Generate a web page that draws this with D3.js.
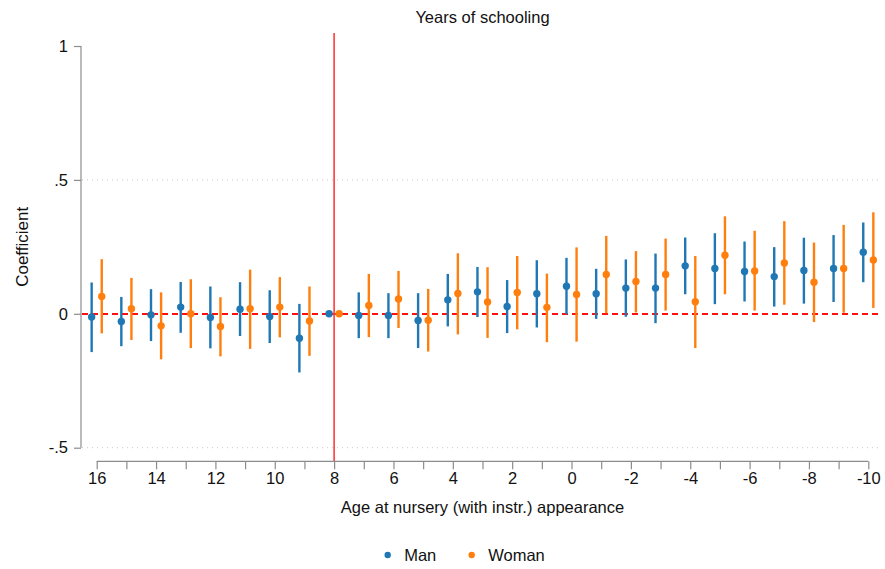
<!DOCTYPE html>
<html>
<head>
<meta charset="utf-8">
<script src="https://cdn.jsdelivr.net/npm/d3@7"></script>
<style>
  body { margin: 0; background: #fff; }
  svg { font-family: "Liberation Sans", Arial, sans-serif; }
</style>
</head>
<body>
<svg id="chart" width="885" height="569"></svg>
<script>
// ages on the x axis (reversed, 16 down to -10)
const ages = [16, 15, 14, 13, 12, 11, 10, 9, 8, 7, 6, 5, 4, 3, 2, 1, 0, -1, -2, -3, -4, -5, -6, -7, -8, -9, -10];

const manCoef = [-0.012, -0.029, -0.004, 0.025, -0.014, 0.017, -0.010, -0.091, 0, -0.006, -0.006, -0.025, 0.052, 0.082, 0.027, 0.075, 0.103, 0.075, 0.096, 0.096, 0.179, 0.169, 0.158, 0.139, 0.162, 0.169, 0.230];
const manLo = [-0.143, -0.121, -0.102, -0.071, -0.129, -0.083, -0.109, -0.219, 0, -0.091, -0.091, -0.128, -0.047, -0.012, -0.072, -0.051, -0.002, -0.019, -0.011, -0.035, 0.073, 0.036, 0.046, 0.027, 0.038, 0.044, 0.118];
const manHi = [0.117, 0.063, 0.092, 0.119, 0.102, 0.118, 0.088, 0.037, 0, 0.080, 0.077, 0.077, 0.149, 0.175, 0.126, 0.200, 0.209, 0.168, 0.203, 0.225, 0.285, 0.301, 0.270, 0.249, 0.284, 0.294, 0.341];

const womanCoef = [0.065, 0.019, -0.045, 0.000, -0.047, 0.019, 0.025, -0.027, 0, 0.031, 0.055, -0.024, 0.076, 0.044, 0.080, 0.024, 0.072, 0.147, 0.121, 0.147, 0.045, 0.219, 0.160, 0.190, 0.118, 0.169, 0.201];
const womanLo = [-0.073, -0.098, -0.170, -0.128, -0.159, -0.131, -0.088, -0.157, 0, -0.087, -0.053, -0.141, -0.077, -0.090, -0.058, -0.106, -0.104, 0.002, 0.005, 0.012, -0.128, 0.073, 0.012, 0.034, -0.031, 0.004, 0.022];
const womanHi = [0.204, 0.134, 0.080, 0.129, 0.062, 0.165, 0.137, 0.102, 0, 0.149, 0.160, 0.093, 0.226, 0.174, 0.216, 0.150, 0.248, 0.291, 0.234, 0.281, 0.216, 0.364, 0.310, 0.346, 0.266, 0.332, 0.379];

const yTicks = [-0.5, 0, 0.5, 1];
const yTickLabels = ["-.5", "0", ".5", "1"];
const xTickLabels = [16, 14, 12, 10, 8, 6, 4, 2, 0, -2, -4, -6, -8, -10];

// x axis runs high -> low, so a positive offset shifts the mark to the left
const series = [
  { name: "Man", color: "#1f77b4", offset: 0.17, coef: manCoef, lo: manLo, hi: manHi },
  { name: "Woman", color: "#ff7f0e", offset: -0.17, coef: womanCoef, lo: womanLo, hi: womanHi }
];

const svg = d3.select("#chart");
const axisColor = "#8c8c8c";

const x = d3.scaleLinear().domain([16, -10]).range([96.7, 868.3]);
const y = d3.scaleLinear().domain([-0.5, 1]).range([447.7, 46]);
const plotRight = 880;

// grid lines (dotted)
svg.append("g")
  .selectAll("line")
  .data(yTicks.filter(d => d !== 1))
  .join("line")
  .attr("x1", 82).attr("x2", plotRight)
  .attr("y1", d => y(d)).attr("y2", d => y(d))
  .attr("stroke", "#c8c8c8")
  .attr("stroke-width", 1)
  .attr("stroke-dasharray", "1,4");

// zero reference line
svg.append("line")
  .attr("x1", 82).attr("x2", plotRight)
  .attr("y1", Math.round(y(0))).attr("y2", Math.round(y(0)))
  .attr("stroke", "#ff1010")
  .attr("stroke-width", 2)
  .attr("shape-rendering", "crispEdges")
  .attr("stroke-dasharray", "6,4");

// vertical reference line at age 8
svg.append("line")
  .attr("x1", x(8)).attr("x2", x(8))
  .attr("y1", 33).attr("y2", 461.3)
  .attr("stroke", "#ff3b3b")
  .attr("stroke-width", 1.6);

// y axis
const yAxis = d3.axisLeft(y)
  .tickValues(yTicks)
  .tickSize(7)
  .tickPadding(6)
  .tickFormat((d, i) => yTickLabels[i]);

const gy = svg.append("g")
  .attr("transform", "translate(81,0)")
  .call(yAxis);
gy.select(".domain").attr("stroke", axisColor).attr("stroke-width", 1.2).attr("d", `M0,${y(-0.5)}V${y(1)}`);
gy.selectAll(".tick line").attr("stroke", axisColor).attr("stroke-width", 1.2);
gy.selectAll(".tick text").attr("fill", "#111").style("font-size", "16.5px");

// x axis
const xAxis = d3.axisBottom(x)
  .tickValues(ages)
  .tickSize(8)
  .tickPadding(3)
  .tickFormat(d => xTickLabels.includes(d) ? d : "");

const gx = svg.append("g")
  .attr("transform", "translate(0,461.3)")
  .call(xAxis);
gx.select(".domain").attr("stroke", axisColor).attr("stroke-width", 1.2).attr("d", `M${x(16)},0H${x(-10)}`);
gx.selectAll(".tick line").attr("stroke", axisColor).attr("stroke-width", 1.2);
gx.selectAll(".tick text").attr("fill", "#111").style("font-size", "16.5px");

// confidence intervals and point estimates
series.forEach(s => {
  const g = svg.append("g");
  g.selectAll("line")
    .data(ages.map((a, i) => ({ a, lo: s.lo[i], hi: s.hi[i] })))
    .join("line")
    .attr("x1", d => x(d.a + s.offset)).attr("x2", d => x(d.a + s.offset))
    .attr("y1", d => y(d.lo)).attr("y2", d => y(d.hi))
    .attr("stroke", s.color)
    .attr("stroke-width", 2.4);
  g.selectAll("circle")
    .data(ages.map((a, i) => ({ a, c: s.coef[i] })))
    .join("circle")
    .attr("cx", d => x(d.a + s.offset))
    .attr("cy", d => y(d.c))
    .attr("r", 3.7)
    .attr("fill", s.color);
});

// title
svg.append("text")
  .attr("x", 482.5).attr("y", 23)
  .attr("text-anchor", "middle")
  .attr("fill", "#111")
  .style("font-size", "16.5px")
  .text("Years of schooling");

// axis titles
svg.append("text")
  .attr("x", 482.5).attr("y", 513)
  .attr("text-anchor", "middle")
  .attr("fill", "#111")
  .style("font-size", "16.5px")
  .text("Age at nursery (with instr.) appearance");

svg.append("text")
  .attr("transform", `translate(28,${y(0.25)}) rotate(-90)`)
  .attr("text-anchor", "middle")
  .attr("fill", "#111")
  .style("font-size", "17px")
  .text("Coefficient");

// legend
const legendPos = [387.7, 471.7];
const legend = svg.append("g");
series.forEach((s, i) => {
  legend.append("circle")
    .attr("cx", legendPos[i]).attr("cy", 555)
    .attr("r", 3.2)
    .attr("fill", s.color);
  legend.append("text")
    .attr("x", legendPos[i] + 16.5).attr("y", 561)
    .attr("fill", "#111")
    .style("font-size", "16.5px")
    .text(s.name);
});
</script>
</body>
</html>
